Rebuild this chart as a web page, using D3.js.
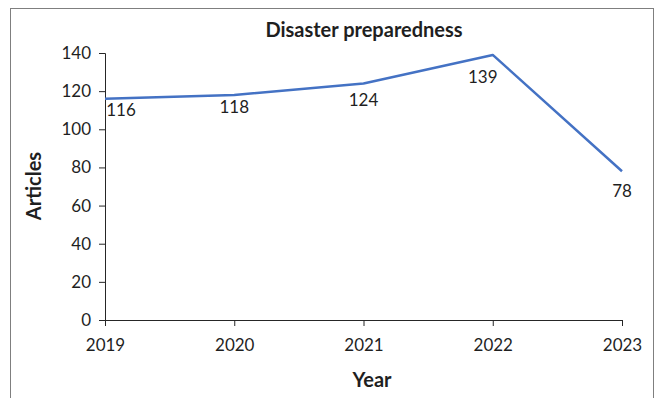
<!DOCTYPE html>
<html>
<head>
<meta charset="utf-8">
<script src="https://cdn.jsdelivr.net/npm/d3@7"></script>
<style>
  html, body { margin: 0; padding: 0; background: #fff; }
  svg { display: block; }
  text { font-family: Lato, "Open Sans", sans-serif; fill: #1f1f1f; }
</style>
</head>
<body>
<svg id="chart" width="660" height="398"></svg>
<script>
// Yearly article counts
const years = [2019, 2020, 2021, 2022, 2023];
const articles = [116, 118, 124, 139, 78];
const yTicks = [0, 20, 40, 60, 80, 100, 120, 140];
const chartTitle = "Disaster preparedness";
const xTitle = "Year";
const yTitle = "Articles";

// Nudges for the value labels (dx, dy from the point)
const labelNudge = [[16, 17], [0, 18], [0, 22], [-10, 28], [0, 26]];

const svg = d3.select("#chart");
const plot = { left: 105, right: 622, top: 53, bottom: 320 };

// Outer frame
svg.append("rect")
  .attr("x", 10.5).attr("y", 8.5)
  .attr("width", 643).attr("height", 400)
  .attr("fill", "none").attr("stroke", "#7f7f7f").attr("stroke-width", 1);

const x = d3.scalePoint().domain(years).range([plot.left, plot.right]);
const y = d3.scaleLinear().domain([0, 140]).range([plot.bottom, plot.top]);

// Y axis
const yAxis = svg.append("g")
  .attr("transform", `translate(${plot.left},0)`)
  .call(d3.axisLeft(y).tickValues(yTicks).tickSize(6).tickPadding(8));
yAxis.select(".domain").attr("stroke", "#262626");
yAxis.selectAll(".tick line").attr("stroke", "#262626");
yAxis.selectAll(".tick text")
  .attr("font-size", 17).attr("fill", "#1f1f1f")
  .style("font-family", "Lato, sans-serif");

// X axis
const xAxis = svg.append("g")
  .attr("transform", `translate(0,${plot.bottom})`)
  .call(d3.axisBottom(x).tickSize(6).tickPadding(13).tickSizeOuter(0));
xAxis.select(".domain").attr("stroke", "#262626");
xAxis.selectAll(".tick line").attr("stroke", "#262626");
xAxis.selectAll(".tick text")
  .attr("font-size", 17).attr("fill", "#1f1f1f")
  .style("font-family", "Lato, sans-serif");

// Series line
const line = d3.line()
  .x((d, i) => x(years[i]))
  .y(d => y(d));
svg.append("path")
  .datum(articles)
  .attr("d", line)
  .attr("fill", "none")
  .attr("stroke", "#4472C4")
  .attr("stroke-width", 2.5)
  .attr("stroke-linejoin", "round");

// Value labels
svg.append("g").selectAll("text")
  .data(articles)
  .join("text")
  .attr("x", (d, i) => x(years[i]) + labelNudge[i][0])
  .attr("y", (d, i) => y(d) + labelNudge[i][1])
  .attr("text-anchor", "middle")
  .attr("font-size", 17)
  .text(d => d);

// Titles
svg.append("text")
  .attr("x", 364).attr("y", 37)
  .attr("text-anchor", "middle")
  .attr("font-size", 20).attr("font-weight", "bold")
  .text(chartTitle);

svg.append("text")
  .attr("x", 372).attr("y", 387)
  .attr("text-anchor", "middle")
  .attr("font-size", 20).attr("font-weight", "bold")
  .text(xTitle);

svg.append("text")
  .attr("transform", "translate(41,186) rotate(-90)")
  .attr("text-anchor", "middle")
  .attr("font-size", 20).attr("font-weight", "bold")
  .text(yTitle);
</script>
</body>
</html>
